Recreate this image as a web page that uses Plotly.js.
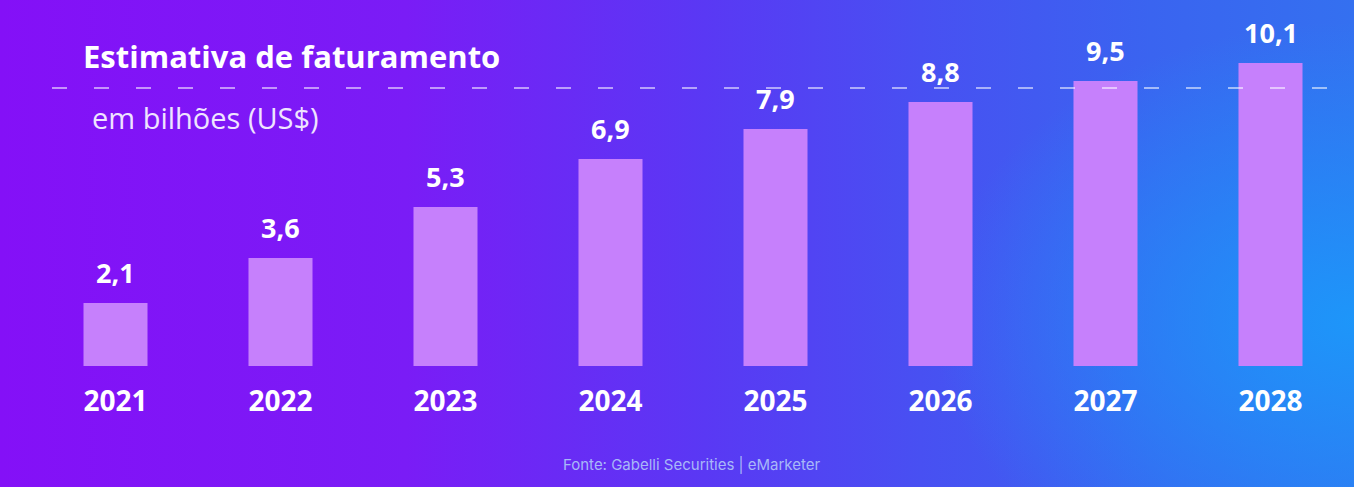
<!DOCTYPE html>
<html>
<head>
<meta charset="utf-8">
<script src="https://cdn.plot.ly/plotly-3.0.1.min.js"></script>
<style>
html, body { margin:0; padding:0; width:1354px; height:487px; overflow:hidden; }
body {
  background:
    radial-gradient(ellipse 420px 300px at 100% 66%, rgba(28,152,250,0.95) 0%, rgba(28,152,250,0) 100%),
    linear-gradient(90deg, #8410f7 0%, #7a1cf6 30%, #5a38f4 52%, #4850f2 68%, #3a64f0 85%, #3470f0 100%);
}
#chart { width:1354px; height:487px; }
</style>
</head>
<body>
<div id="chart"></div>
<script>
const years = ['2021','2022','2023','2024','2025','2026','2027','2028'];
const revenue = [2.1, 3.6, 5.3, 6.9, 7.9, 8.8, 9.5, 10.1];
const titleText = 'Estimativa de faturamento';
const subtitleText = 'em bilhões (US$)';
const sourceText = 'Fonte: Gabelli Securities | eMarketer';

const FONT = '"Open Sans", Lato, sans-serif';

const trace = {
  type: 'bar',
  x: years.map((_, i) => i),
  y: revenue,
  marker: { color: '#c680fc', line: { width: 0 } },
  hoverinfo: 'skip'
};

const valueLabels = years.map((yr, i) => ({
  x: i, y: revenue[i], xref: 'x', yref: 'y',
  text: '<b>' + revenue[i].toFixed(1).replace('.', ',') + '</b>',
  showarrow: false, yanchor: 'bottom', xanchor: 'center', yshift: 10,
  font: { family: FONT, size: 27, color: '#ffffff' }
}));

const layout = {
  width: 1354, height: 487,
  margin: { l: 33, r: 1, t: 6, b: 121 },
  paper_bgcolor: 'rgba(0,0,0,0)',
  plot_bgcolor: 'rgba(0,0,0,0)',
  separators: ',.',
  bargap: 0.612,
  showlegend: false,
  title: {
    text: '<b>' + titleText + '</b>',
    xref: 'container', yref: 'container',
    x: 83 / 1354, xanchor: 'left',
    y: 1 - 57 / 487, yanchor: 'middle',
    font: { family: FONT, size: 31, color: '#ffffff' }
  },
  xaxis: {
    type: 'linear',
    range: [-0.5, 7.5],
    tickmode: 'array',
    tickvals: years.map((_, i) => i),
    ticktext: years.map(y => '<b>' + y + '</b>'),
    showgrid: false, zeroline: false, showline: false,
    ticks: '', ticklabelstandoff: 16,
    tickfont: { family: FONT, size: 28, color: '#ffffff' },
    fixedrange: true
  },
  yaxis: {
    range: [0, 12], visible: false, fixedrange: true
  },
  shapes: [{
    type: 'line', xref: 'paper', yref: 'paper',
    x0: (52 - 33) / 1320, x1: (1335 - 33) / 1320,
    y0: (366 - 88) / 360, y1: (366 - 88) / 360,
    layer: 'above',
    line: { color: 'rgba(255,255,255,0.55)', width: 2, dash: '15px,27px' }
  }],
  annotations: valueLabels.concat([
    {
      text: subtitleText, xref: 'paper', yref: 'paper',
      x: (90 - 33) / 1320, xanchor: 'left',
      y: (366 - 117) / 360, yanchor: 'middle',
      showarrow: false,
      font: { family: FONT, size: 29, color: '#efe4ff' }
    },
    {
      text: sourceText, xref: 'paper', yref: 'paper',
      x: (692 - 33) / 1320, xanchor: 'center',
      y: (366 - 465) / 360, yanchor: 'middle',
      showarrow: false,
      font: { family: 'Inter, "Noto Sans", sans-serif', size: 15, color: '#a8b8f8' }
    }
  ])
};

Plotly.newPlot('chart', [trace], layout, { displayModeBar: false, staticPlot: true });
</script>
</body>
</html>
